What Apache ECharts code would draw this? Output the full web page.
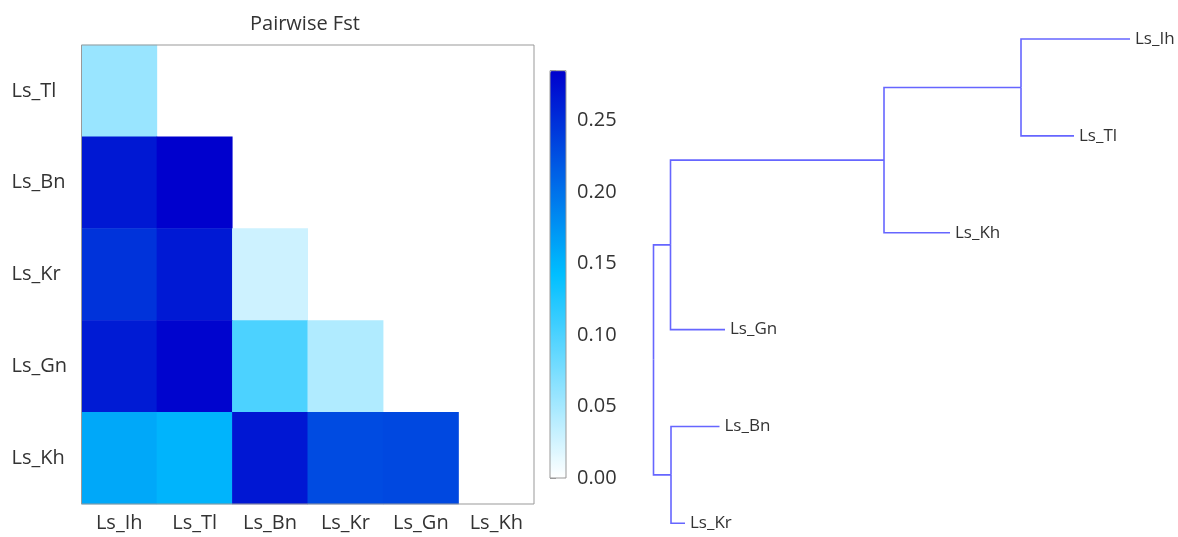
<!DOCTYPE html>
<html>
<head>
<meta charset="utf-8">
<script src="https://cdn.jsdelivr.net/npm/echarts@6/dist/echarts.min.js"></script>
<style>
  html, body { margin: 0; padding: 0; background: #fff; }
  #chart { width: 1178px; height: 537px; }
</style>
</head>
<body>
<div id="chart"></div>
<script>
// Pairwise Fst matrix (lower triangle), one array per row
const popCols = ['Ls_Ih', 'Ls_Tl', 'Ls_Bn', 'Ls_Kr', 'Ls_Gn', 'Ls_Kh'];
const popRows = ['Ls_Tl', 'Ls_Bn', 'Ls_Kr', 'Ls_Gn', 'Ls_Kh'];
const fstTl = [0.057];
const fstBn = [0.267, 0.285];
const fstKr = [0.247, 0.266, 0.028];
const fstGn = [0.265, 0.282, 0.100, 0.044];
const fstKh = [0.160, 0.151, 0.268, 0.229, 0.231];
const fstRows = [fstTl, fstBn, fstKr, fstGn, fstKh];
const fstMax = 0.285;
const colorTicks = [0, 0.05, 0.10, 0.15, 0.20, 0.25];

// Tree: leaf order top to bottom, distance of each node from the root
const leafOrder = ['Ls_Ih', 'Ls_Tl', 'Ls_Kh', 'Ls_Gn', 'Ls_Bn', 'Ls_Kr'];
const leafDepth = {
  Ls_Ih: 0.4765, Ls_Tl: 0.4205, Ls_Kh: 0.2965,
  Ls_Gn: 0.0715, Ls_Bn: 0.0660, Ls_Kr: 0.0315
};
const innerNodes = {
  root: { depth: 0.0,    children: ['n1', 'n4'] },
  n1:   { depth: 0.0170, children: ['n2', 'Ls_Gn'] },
  n2:   { depth: 0.2305, children: ['n3', 'Ls_Kh'] },
  n3:   { depth: 0.3675, children: ['Ls_Ih', 'Ls_Tl'] },
  n4:   { depth: 0.0175, children: ['Ls_Bn', 'Ls_Kr'] }
};

// heatmap cells [col, row, value]
const heatData = [];
fstRows.forEach((row, r) => row.forEach((v, c) => heatData.push([c, r, v])));

// node positions: leaves by order, inner nodes at the mean of their children
function nodePos(name) {
  if (name in leafDepth) return { x: leafDepth[name], y: leafOrder.indexOf(name) };
  const node = innerNodes[name];
  const ys = node.children.map(ch => nodePos(ch).y);
  return { x: node.depth, y: (Math.min(...ys) + Math.max(...ys)) / 2 };
}
const branches = [];
Object.keys(innerNodes).forEach(name => {
  const p = nodePos(name);
  innerNodes[name].children.forEach(ch => {
    const c = nodePos(ch);
    branches.push([p.x, p.y, c.x, c.y]);
  });
});
const leafPoints = leafOrder.map(n => ({ name: n, value: [leafDepth[n], leafOrder.indexOf(n)] }));

const FONT = 'Open Sans';
const TXT = '#333';

const chart = echarts.init(document.getElementById('chart'));
chart.setOption({
  animation: false,
  textStyle: { fontFamily: FONT },
  title: {
    text: 'Pairwise Fst',
    left: 245, top: 9,
    textStyle: { fontFamily: FONT, fontSize: 20, fontWeight: 'normal', color: TXT }
  },
  grid: [
    { left: 81.5, top: 45, width: 452.5, height: 459, show: true, borderColor: '#999', borderWidth: 1, z: 5 },
    { left: 550, top: 70.7, width: 16, height: 407.3, show: true, borderColor: '#999', borderWidth: 1, z: 10 },
    { left: 653.5, top: 39, width: 500, height: 484.3 }
  ],
  xAxis: [
    {
      gridIndex: 0, type: 'category', data: popCols,
      axisLine: { show: false }, axisTick: { show: false }, splitLine: { show: false },
      axisLabel: { fontSize: 20, color: TXT, margin: 9, fontFamily: FONT }
    },
    { gridIndex: 1, type: 'value', show: false },
    { gridIndex: 2, type: 'value', min: 0, max: 0.5, show: false }
  ],
  yAxis: [
    {
      gridIndex: 0, type: 'category', data: popRows, inverse: true,
      axisLine: { show: false }, axisTick: { show: false }, splitLine: { show: false },
      axisLabel: { fontSize: 20, color: TXT, margin: 70, align: 'left', fontFamily: FONT }
    },
    {
      gridIndex: 1, type: 'value', position: 'right', min: 0, max: fstMax, interval: 0.05,
      axisLine: { show: false },
      axisTick: { show: true, length: 6, lineStyle: { color: '#999' } },
      splitLine: { show: false },
      axisLabel: {
        fontSize: 20, color: TXT, margin: 11, fontFamily: FONT,
        customValues: colorTicks,
        formatter: v => v.toFixed(2)
      }
    },
    { gridIndex: 2, type: 'value', min: 0, max: 5, inverse: true, show: false }
  ],
  visualMap: {
    type: 'continuous',
    min: 0, max: fstMax,
    seriesIndex: 0,
    calculable: false,
    hoverLink: false,
    left: 550, top: 70.7,
    itemWidth: 16, itemHeight: 407.3,
    padding: 0,
    inRange: { color: ['#ffffff', '#00bfff', '#0000cd'] }
  },
  series: [
    {
      type: 'heatmap',
      xAxisIndex: 0, yAxisIndex: 0,
      data: heatData,
      itemStyle: { borderWidth: 0 },
      emphasis: { disabled: true }
    },
    {
      type: 'custom',
      xAxisIndex: 2, yAxisIndex: 2,
      data: branches,
      renderItem: (params, api) => {
        const p0 = api.coord([api.value(0), api.value(1)]);
        const p1 = api.coord([api.value(0), api.value(3)]);
        const p2 = api.coord([api.value(2), api.value(3)]);
        return {
          type: 'polyline',
          shape: { points: [p0, p1, p2] },
          style: { stroke: '#6666ff', lineWidth: 1.6, fill: null }
        };
      },
      silent: true
    },
    {
      type: 'scatter',
      xAxisIndex: 2, yAxisIndex: 2,
      data: leafPoints,
      symbolSize: 0,
      itemStyle: { opacity: 1 },
      label: {
        show: true, position: 'right', distance: 5,
        formatter: p => p.name,
        fontSize: 17, color: TXT, fontFamily: FONT
      },
      silent: true
    }
  ]
});
</script>
</body>
</html>
